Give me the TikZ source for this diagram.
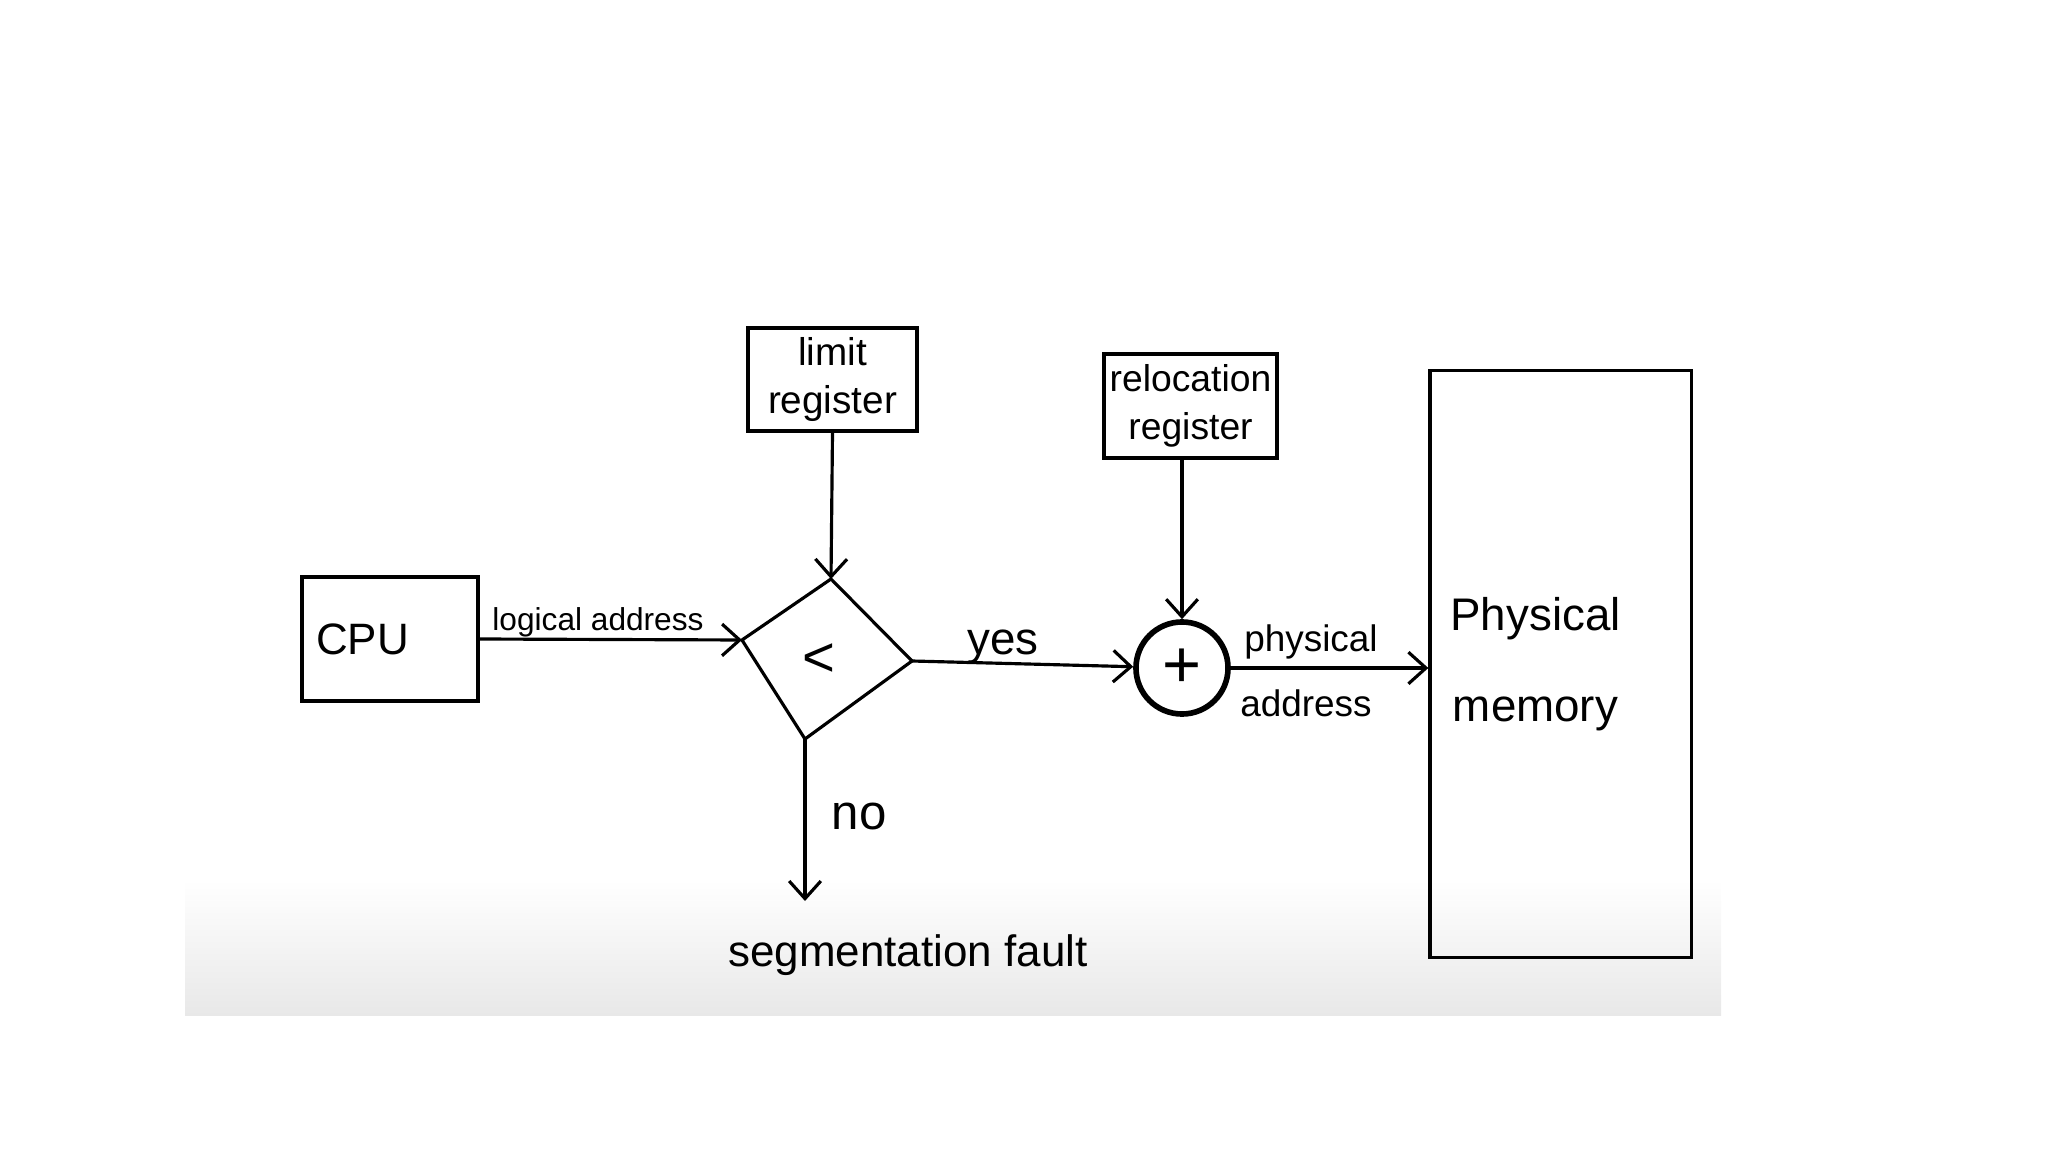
\documentclass[tikz,border=0pt]{standalone}
\usepackage{fontspec}
\setmainfont{Liberation Sans}
\usetikzlibrary{arrows.meta,shapes.geometric}
\begin{document}
\begin{tikzpicture}[x=0.01cm,y=-0.01cm,
  box/.style={draw,line width=0.9pt,inner sep=0pt,align=center},
  arr/.style={line width=0.9pt,-{Straight Barb[length=5pt,width=9pt,line width=0.9pt]}},
  lab/.style={anchor=base,inner sep=0pt}]
\useasboundingbox (0,0) rectangle (2048,1152);
\shade[top color=white,bottom color=black!9] (185,880) rectangle (1721,1015);
% boxes
\node[box,minimum width=1.76cm,minimum height=1.24cm,font=\fontsize{12.5}{15}\selectfont] (cpu) at (390,639) {CPU\hspace*{0.55cm}};
\node[box,minimum width=1.69cm,minimum height=1.03cm,font=\fontsize{11}{13.7}\selectfont] (limit) at (832.5,379.5) {limit\\register};
\node[box,minimum width=1.73cm,minimum height=1.04cm,font=\fontsize{10.6}{13.5}\selectfont] (reloc) at (1190.5,406) {relocation\\register};
\node[box,minimum width=2.61cm,minimum height=5.86cm,font=\fontsize{13}{26}\selectfont] (mem) at (1560.5,664) {Physical\hspace*{0.5cm}\\memory\hspace*{0.5cm}};
% comparator diamond
\coordinate (dl) at (742,640);
\coordinate (dt) at (831,579);
\coordinate (dr) at (912,661);
\coordinate (db) at (805,739);
\draw[line width=0.9pt,line join=miter] (dl) -- (dt) -- (dr) -- (db) -- cycle;
\node[font=\fontsize{16}{18}\selectfont] (lt) at (819,660) {<};
% adder
\node[draw,circle,line width=1.6pt,minimum size=0.92cm,inner sep=0pt,font=\fontsize{19}{21}\selectfont] (circ) at (1182,668) {+};
% connectors
\draw[arr] (cpu.east) -- (dl);
\draw[arr] (limit.south) -- (dt);
\draw[arr] (dr) -- (circ);
\draw[arr] (circ.north |- reloc.south) -- (circ.north);
\draw[arr] (circ.east) -- (circ.east -| mem.west);
\coordinate (nend) at (805,901);
\draw[arr] (db) -- (nend);
% labels
\node[lab,font=\fontsize{9}{11}\selectfont] (la) at (598,630) {logical address};
\node[lab,font=\fontsize{13}{15}\selectfont] (yes) at (1003,655) {yes};
\node[lab,font=\fontsize{14}{16}\selectfont] (no) at (859,829) {no};
\node[lab,font=\fontsize{10.5}{12}\selectfont] (phy) at (1311,652) {physical};
\node[lab,font=\fontsize{10.5}{12}\selectfont] (addr) at (1306,716) {address};
\node[lab,font=\fontsize{12.5}{15}\selectfont] (sf) at (908,966) {segmentation fault};
\end{tikzpicture}
\end{document}
